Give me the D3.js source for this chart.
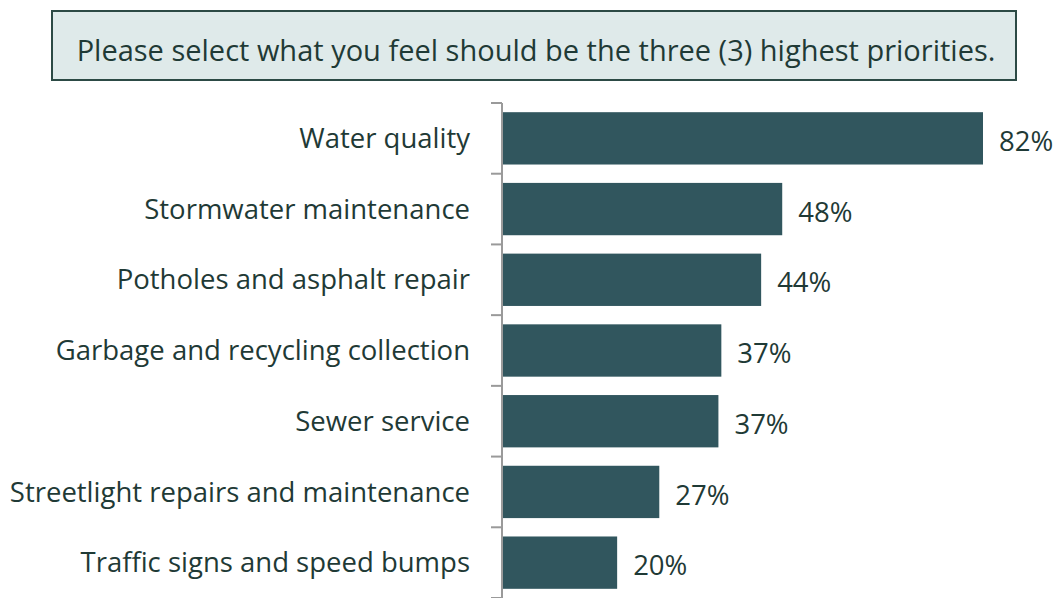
<!DOCTYPE html>
<html lang="en">
<head>
    <meta charset="utf-8">
    <title>Priorities</title>
    <script src="https://cdn.jsdelivr.net/npm/d3@7"></script>
    <style type="text/css">
        body { margin: 0; background: #fff; }
        text { font-family: "Open Sans", "Noto Sans", sans-serif; }
    </style>
</head>
<body>
    <svg width="1058" height="598"></svg>
    <script>

        var categories = ["Water quality", "Stormwater maintenance", "Potholes and asphalt repair",
            "Garbage and recycling collection", "Sewer service",
            "Streetlight repairs and maintenance", "Traffic signs and speed bumps"];
        var values = [82, 47.7, 44.1, 37.3, 36.8, 26.7, 19.5];
        var labels = ["82%", "48%", "44%", "37%", "37%", "27%", "20%"];
        var question = "Please select what you feel should be the three (3) highest priorities.";

        var svg = d3.select("svg");

        // question box
        svg.append("rect")
           .attr("x", 52).attr("y", 11)
           .attr("width", 964).attr("height", 69)
           .attr("fill", "#dfeaea")
           .attr("stroke", "#2c4a45")
           .attr("stroke-width", 2);

        svg.append("text")
           .attr("x", 536).attr("y", 61)
           .attr("text-anchor", "middle")
           .attr("font-size", 29)
           .attr("fill", "#1f3a36")
           .text(question);

        var axisX = 502;

        var yScale = d3.scaleBand()
            .domain(categories)
            .range([103, 598])
            .paddingInner(0.26)
            .paddingOuter(0.13);

        var xScale = d3.scaleLinear()
            .domain([0, 82])
            .range([axisX + 1, 983]);

        var step = yScale.step();
        var g = svg.append("g");

        g.selectAll("rect.bar")
         .data(categories)
         .enter().append("rect")
         .attr("class", "bar")
         .attr("x", xScale(0))
         .attr("y", function(d) { return yScale(d); })
         .attr("width", function(d, i) { return xScale(values[i]) - xScale(0); })
         .attr("height", yScale.bandwidth())
         .attr("fill", "#31565e");

        // axis line and boundary ticks
        g.append("line")
         .attr("x1", axisX).attr("x2", axisX)
         .attr("y1", yScale.range()[0]).attr("y2", yScale.range()[1])
         .attr("stroke", "#9a9a9a").attr("stroke-width", 2);

        var bounds = categories.map(function(d) { return yScale(d) - step * yScale.paddingInner() / 2; });
        bounds.push(yScale.range()[1]);
        g.selectAll("line.tick")
         .data(bounds)
         .enter().append("line")
         .attr("class", "tick")
         .attr("x1", axisX - 11).attr("x2", axisX)
         .attr("y1", function(d) { return d; }).attr("y2", function(d) { return d; })
         .attr("stroke", "#9a9a9a").attr("stroke-width", 2);

        g.selectAll("text.cat")
         .data(categories)
         .enter().append("text")
         .attr("class", "cat")
         .attr("x", 470)
         .attr("y", function(d) { return yScale(d) + yScale.bandwidth() / 2; })
         .attr("dy", "0.35em")
         .attr("text-anchor", "end")
         .attr("font-size", 27.5)
         .attr("fill", "#1f3a36")
         .text(function(d) { return d; });

        g.selectAll("text.val")
         .data(categories)
         .enter().append("text")
         .attr("class", "val")
         .attr("x", function(d, i) { return xScale(values[i]) + 16; })
         .attr("y", function(d) { return yScale(d) + yScale.bandwidth() / 2 + 3; })
         .attr("dy", "0.35em")
         .attr("font-size", 27.5)
         .attr("fill", "#1f3a36")
         .text(function(d, i) { return labels[i]; });

    </script>
</body>
</html>
